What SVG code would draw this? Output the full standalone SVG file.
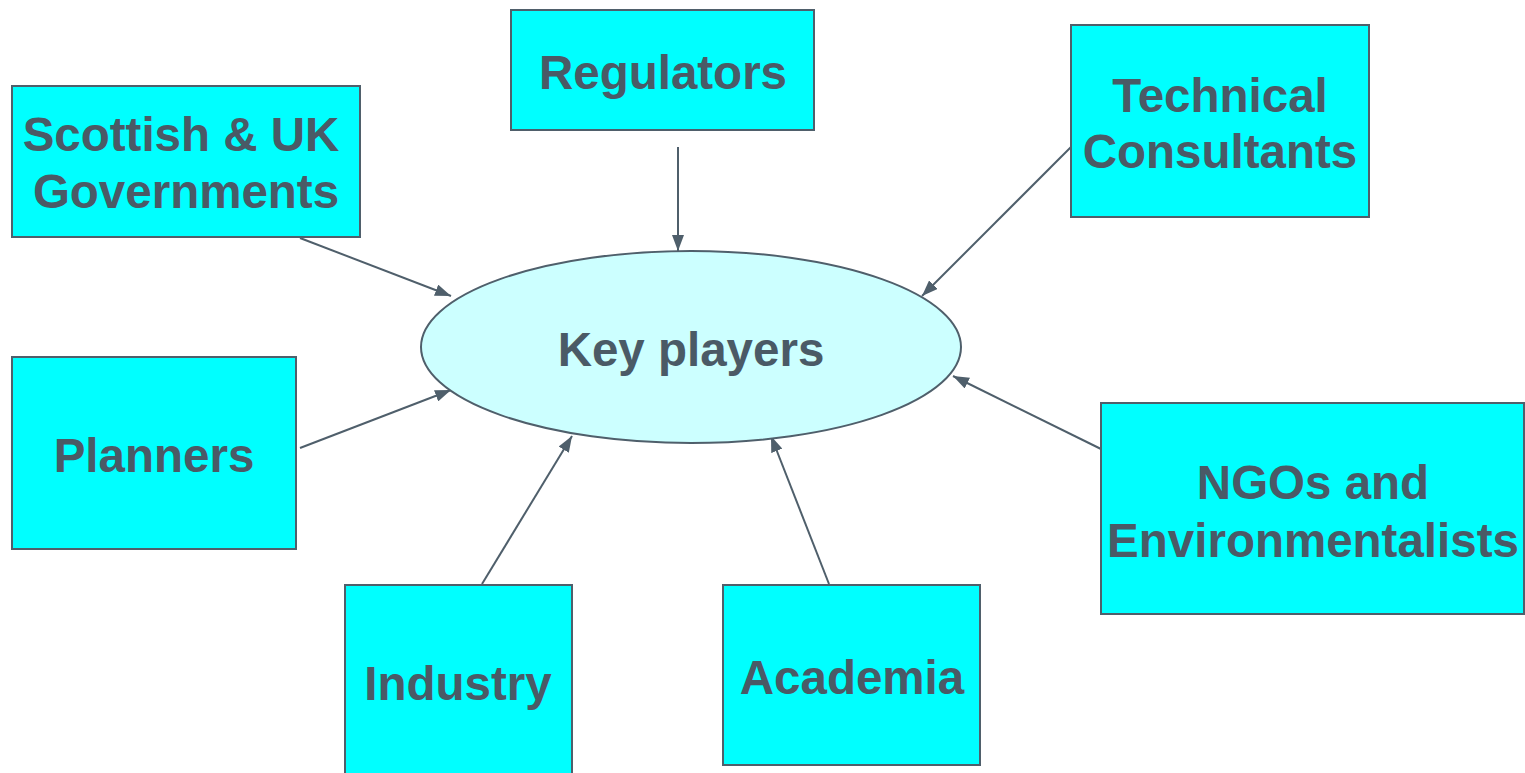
<svg xmlns="http://www.w3.org/2000/svg" width="1525" height="773" viewBox="0 0 1525 773">
<defs>
<style>
.box{fill:#00ffff;stroke:#4f5f6b;stroke-width:2}
.lbl{font-family:"Liberation Sans",Arial,sans-serif;font-weight:bold;font-size:47.5px;fill:#4a5a66;text-anchor:middle}
.con{stroke:#4f5f6b;stroke-width:2;fill:none;marker-end:url(#ah)}
</style>
<marker id="ah" viewBox="0 0 16 12" refX="16" refY="6" markerWidth="16" markerHeight="12" markerUnits="userSpaceOnUse" orient="auto"><path d="M0,0 L16,6 L0,12 z" fill="#4f5f6b"/></marker>
</defs>
<rect width="1525" height="773" fill="#ffffff"/>
<g id="connectors">
<line class="con" x1="678" y1="147" x2="678" y2="251"/>
<line class="con" x1="300" y1="238" x2="451" y2="296"/>
<line class="con" x1="1071" y1="147" x2="922" y2="296"/>
<line class="con" x1="300" y1="448" x2="451" y2="390"/>
<line class="con" x1="482" y1="584" x2="572" y2="436"/>
<line class="con" x1="829" y1="584" x2="771" y2="436"/>
<line class="con" x1="1101" y1="449" x2="953" y2="376"/>
</g>
<g id="key-players">
<ellipse cx="691" cy="347" rx="270" ry="96" fill="#ccffff" stroke="#4f5f6b" stroke-width="2"/>
<text class="lbl" x="691" y="366">Key players</text>
</g>
<g id="regulators">
<rect class="box" x="511" y="10" width="303" height="120"/>
<text class="lbl" x="663" y="89">Regulators</text>
</g>
<g id="governments">
<rect class="box" x="12" y="86" width="348" height="151"/>
<text class="lbl" x="181" y="151">Scottish &amp; UK</text>
<text class="lbl" x="186" y="208">Governments</text>
</g>
<g id="technical">
<rect class="box" x="1071" y="25" width="298" height="192"/>
<text class="lbl" x="1220" y="112">Technical</text>
<text class="lbl" x="1220" y="168">Consultants</text>
</g>
<g id="planners">
<rect class="box" x="12" y="357" width="284" height="192"/>
<text class="lbl" x="154" y="472">Planners</text>
</g>
<g id="industry">
<rect class="box" x="345" y="585" width="227" height="200"/>
<text class="lbl" x="458" y="700">Industry</text>
</g>
<g id="academia">
<rect class="box" x="723" y="585" width="257" height="180"/>
<text class="lbl" x="852" y="694">Academia</text>
</g>
<g id="ngos">
<rect class="box" x="1101" y="403" width="423" height="211"/>
<text class="lbl" x="1313" y="499">NGOs and</text>
<text class="lbl" x="1313" y="557">Environmentalists</text>
</g>
</svg>
